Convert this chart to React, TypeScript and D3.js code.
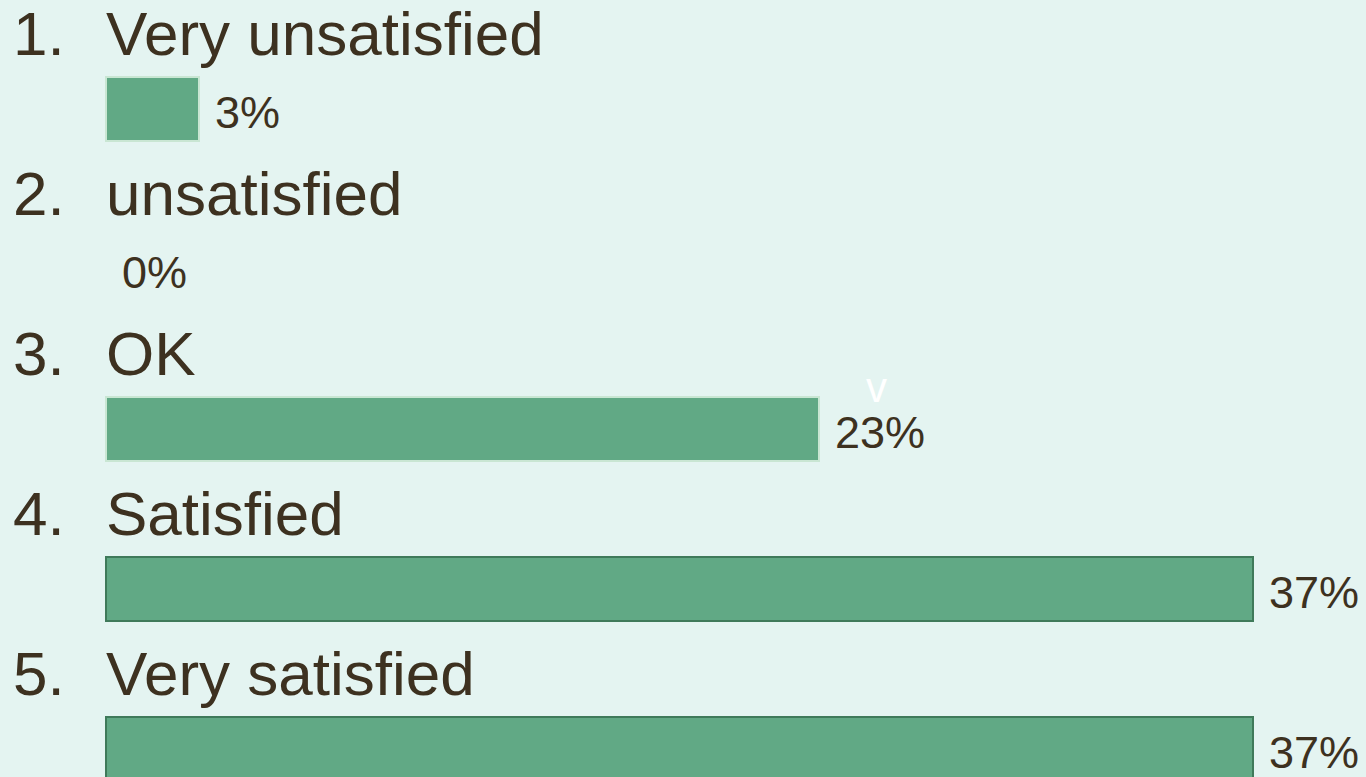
import React from "react";
import * as d3 from "d3";

const categories = ["Very unsatisfied", "unsatisfied", "OK", "Satisfied", "Very satisfied"];
const values = [3, 0, 23, 37, 37];
const valueLabels = ["3%", "0%", "23%", "37%", "37%"];
const barStrokes = ["#c9e6d3", "none", "#c9e6d3", "#3f7a5a", "#3f7a5a"];

const W = 1366;
const H = 777;
const BG = "#e4f4f1";
const TEXT = "#3d3120";
const BAR = "#61a985";
const FONT = "'Liberation Sans', Arial, sans-serif";

export default function App() {
  const x = d3.scaleLinear().domain([0, 37]).range([106, 1253]);
  const row = d3.scaleLinear().domain([0, 1]).range([0, 160]);

  return (
    <svg
      width={W}
      height={H}
      style={{ position: "absolute", left: 0, top: 0, display: "block" }}
      fontFamily={FONT}
    >
      <rect x={0} y={0} width={W} height={H} fill={BG} />
      {categories.map((c, i) => {
        const top = row(i);
        const v = values[i];
        const bw = x(v) - x(0);
        return (
          <g key={c}>
            <text x={13} y={top + 55} fontSize={62} fill={TEXT}>
              {`${i + 1}.`}
            </text>
            <text x={106} y={top + 55} fontSize={62} fill={TEXT}>
              {c}
            </text>
            {v > 0 && (
              <rect
                x={x(0)}
                y={top + 77}
                width={bw}
                height={64}
                fill={BAR}
                stroke={barStrokes[i]}
                strokeWidth={2}
              />
            )}
            <text x={x(v) + 16} y={top + 128} fontSize={45} fill={TEXT}>
              {valueLabels[i]}
            </text>
          </g>
        );
      })}
      <text x={866} y={402} fontSize={42} fill="#ffffff">v</text>
    </svg>
  );
}
